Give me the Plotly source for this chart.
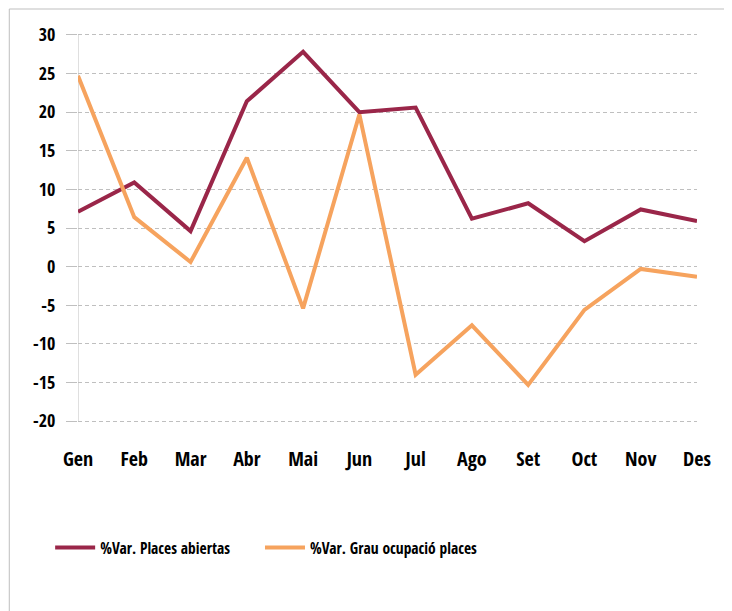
import plotly.graph_objects as go

months = ["Gen", "Feb", "Mar", "Abr", "Mai", "Jun", "Jul", "Ago", "Set", "Oct", "Nov", "Des"]
places_abiertas = [7.1, 10.9, 4.6, 21.4, 27.8, 20.0, 20.6, 6.2, 8.2, 3.3, 7.4, 5.9]
grau_ocupacio = [24.7, 6.4, 0.6, 14.1, -5.4, 19.7, -14.0, -7.6, -15.3, -5.6, -0.3, -1.3]
name_a = "%Var. Places abiertas"
name_b = "%Var. Grau ocupació places"
y_ticks = [-20, -15, -10, -5, 0, 5, 10, 15, 20, 25, 30]
y_ticktext = ["-20", "-15", "-10", "-5", "0", "5", "10", "15", "20", "25", "30"]

FONT = "Open Sans Condensed, Roboto Condensed, DejaVu Sans Condensed, sans-serif"
GRID = "#BFBFBF"
xs = list(range(len(months)))

fig = go.Figure()
fig.add_trace(go.Scatter(x=xs, y=places_abiertas, mode="lines", name=name_a,
                         line=dict(color="#9A2649", width=4), legend="legend"))
fig.add_trace(go.Scatter(x=xs, y=grau_ocupacio, mode="lines", name=name_b,
                         line=dict(color="#F6A35E", width=4), legend="legend2"))

# y-axis line at first category
fig.add_shape(type="line", xref="x", yref="y", x0=0, x1=0, y0=-20, y1=30,
              line=dict(color=GRID, width=1), layer="below")
# outer frame
fig.add_shape(type="rect", xref="paper", yref="paper", x0=-0.111, x1=1.3, y0=-1.0, y1=1.0558,
              line=dict(color=GRID, width=1), fillcolor="rgba(0,0,0,0)", layer="below")

legend_font = dict(family=FONT, size=15.5, weight="bold", color="black")
fig.update_layout(
    width=732, height=611,
    margin=dict(l=70, r=43, t=23, b=194),
    paper_bgcolor="white", plot_bgcolor="white",
    font=dict(family=FONT, color="black", size=17, weight="bold"),
    showlegend=True,
    legend=dict(orientation="h", x=-0.045, xanchor="left", y=-0.312, yanchor="middle",
                font=legend_font, itemwidth=40),
    legend2=dict(orientation="h", x=0.294, xanchor="left", y=-0.312, yanchor="middle",
                 font=legend_font, itemwidth=40),
    xaxis=dict(range=[0, 11], tickmode="array", tickvals=xs, ticktext=months,
               showgrid=False, zeroline=False, showline=False, ticks="",
               ticklabelstandoff=20, tickfont=dict(family=FONT, size=20, weight="bold")),
    yaxis=dict(range=[-20.5, 30.5], tickmode="array", tickvals=y_ticks, ticktext=y_ticktext,
               showgrid=True, gridcolor=GRID, gridwidth=1, griddash="4px,3px",
               zeroline=False, showline=False, ticks="outside", ticklen=11, tickwidth=1,
               tickcolor=GRID, ticklabelstandoff=7,
               tickfont=dict(family=FONT, size=18, weight="bold")),
)

fig.write_html("out.html")
